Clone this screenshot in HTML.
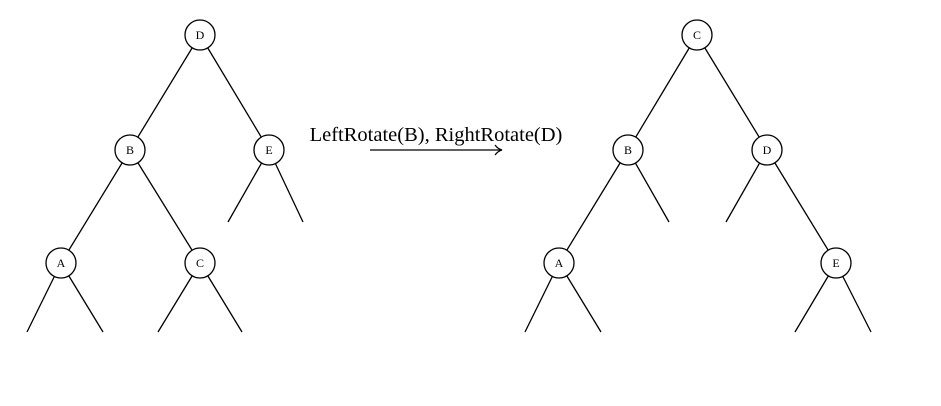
<!DOCTYPE html>
<html><head><style>body{margin:0;background:#fff}</style></head><body>
<svg width="941" height="401" xmlns="http://www.w3.org/2000/svg" font-family="Liberation Serif, serif">
<g stroke="#000" stroke-width="1.3" fill="none">
<line x1="200" y1="35" x2="130" y2="150"/><line x1="200" y1="35" x2="269" y2="150"/>
<line x1="130" y1="150" x2="61" y2="263"/><line x1="130" y1="150" x2="200" y2="263"/>
<line x1="269" y1="150" x2="228" y2="222"/><line x1="269" y1="150" x2="303" y2="222"/>
<line x1="61" y1="263" x2="27" y2="332"/><line x1="61" y1="263" x2="103" y2="332"/>
<line x1="200" y1="263" x2="158" y2="332"/><line x1="200" y1="263" x2="242" y2="332"/>
<line x1="697" y1="35" x2="628" y2="150"/><line x1="697" y1="35" x2="767" y2="150"/>
<line x1="628" y1="150" x2="559" y2="263"/><line x1="628" y1="150" x2="669" y2="222"/>
<line x1="767" y1="150" x2="726" y2="222"/><line x1="767" y1="150" x2="836" y2="263"/>
<line x1="559" y1="263" x2="525" y2="332"/><line x1="559" y1="263" x2="601" y2="332"/>
<line x1="836" y1="263" x2="795" y2="332"/><line x1="836" y1="263" x2="871" y2="332"/>
<line x1="370" y1="150" x2="501" y2="150"/>
<path d="M495,145 Q498,149 502,150 Q498,151 495,155"/>
</g>
<g stroke="#000" stroke-width="1.3" fill="#fff">
<circle cx="200" cy="35" r="15"/><circle cx="130" cy="150" r="15"/><circle cx="269" cy="150" r="15"/>
<circle cx="61" cy="263" r="15"/><circle cx="200" cy="263" r="15"/>
<circle cx="697" cy="35" r="15"/><circle cx="628" cy="150" r="15"/><circle cx="767" cy="150" r="15"/>
<circle cx="559" cy="263" r="15"/><circle cx="836" cy="263" r="15"/>
</g>
<g font-size="12" text-anchor="middle" fill="#000">
<text x="200" y="39">D</text><text x="130" y="154">B</text><text x="269" y="154">E</text>
<text x="61" y="267">A</text><text x="200" y="267">C</text>
<text x="697" y="39">C</text><text x="628" y="154">B</text><text x="767" y="154">D</text>
<text x="559" y="267">A</text><text x="836" y="267">E</text>
</g>
<text x="436" y="141" font-size="20.5" text-anchor="middle">LeftRotate(B), RightRotate(D)</text>
</svg>
</body></html>
